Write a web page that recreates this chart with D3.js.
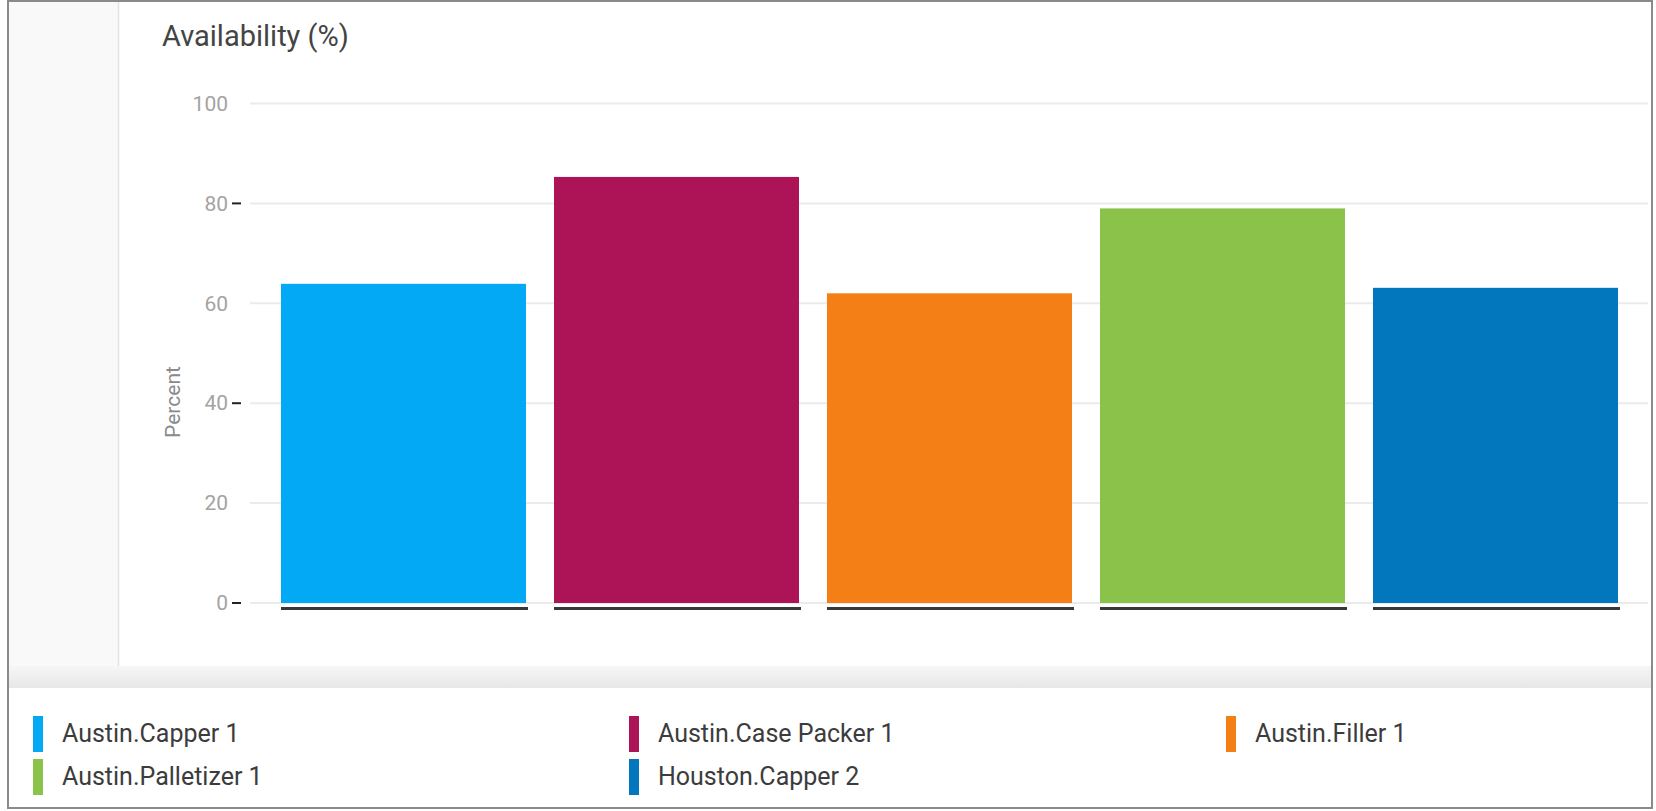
<!DOCTYPE html>
<html>
<head>
<meta charset="utf-8">
<script src="https://cdn.jsdelivr.net/npm/d3@7"></script>
<style>
  html, body { margin: 0; padding: 0; background: #ffffff; }
  svg { display: block; font-family: Roboto, "Noto Sans", sans-serif; }
</style>
</head>
<body>
<svg id="chart" width="1656" height="811"></svg>
<script>
// ---- data ----
const categories = ["Austin.Capper 1", "Austin.Case Packer 1", "Austin.Filler 1", "Austin.Palletizer 1", "Houston.Capper 2"];
const values = [63.9, 85.3, 62.0, 79.0, 63.1];
const colors = ["#03a9f4", "#ad1457", "#f57f17", "#8bc34a", "#0277bd"];
const tickValues = [0, 20, 40, 60, 80, 100];
const markedTicks = [0, 40, 80];
const title = "Availability (%)";
const yLabel = "Percent";

const svg = d3.select("#chart");
const W = 1656, H = 811;

// frame
const frame = { x0: 8, y0: 1, x1: 1652, y1: 808 };
svg.append("rect").attr("x", 0).attr("y", 0).attr("width", W).attr("height", H).attr("fill", "#ffffff");
svg.append("rect").attr("x", frame.x0).attr("y", frame.y0)
  .attr("width", frame.x1 - frame.x0).attr("height", frame.y1 - frame.y0)
  .attr("fill", "#ffffff");
// left side panel
svg.append("rect").attr("x", frame.x0).attr("y", frame.y0).attr("width", 110).attr("height", 666 - frame.y0)
  .attr("fill", "#f9f9f9");
svg.append("line").attr("x1", 118.5).attr("x2", 118.5).attr("y1", frame.y0).attr("y2", 666)
  .attr("stroke", "#e3e3e3").attr("stroke-width", 1.5);
// band between chart and legend
const grad = svg.append("defs").append("linearGradient").attr("id", "band").attr("x1", 0).attr("x2", 0).attr("y1", 0).attr("y2", 1);
grad.append("stop").attr("offset", "0%").attr("stop-color", "#f6f6f6");
grad.append("stop").attr("offset", "100%").attr("stop-color", "#e7e7e7");
svg.append("rect").attr("x", frame.x0).attr("y", 666).attr("width", frame.x1 - frame.x0).attr("height", 22)
  .attr("fill", "url(#band)");
// top teal mark
svg.append("rect").attr("x", 265).attr("y", 0).attr("width", 25).attr("height", 2).attr("fill", "#2f7f8c");

// title
svg.append("text").attr("x", 162).attr("y", 46).attr("font-size", 29).attr("fill", "#444")
  .text(title);

// scales
const y = d3.scaleLinear().domain([0, 100]).range([603, 103.5]);
const x = d3.scaleBand().domain(categories).range([267, 1632]).paddingInner(0.1026).paddingOuter(0.0513);

// gridlines
svg.append("g").selectAll("line").data(tickValues).join("line")
  .attr("x1", 250).attr("x2", 1648)
  .attr("y1", d => y(d)).attr("y2", d => y(d))
  .attr("stroke", "#ebebeb").attr("stroke-width", 2);

// y axis labels
const yAxis = d3.axisLeft(y).tickValues(tickValues).tickSize(0).tickPadding(0).tickFormat(d3.format("d"));
const gy = svg.append("g").attr("transform", "translate(228,0)").call(yAxis);
gy.select(".domain").remove();
gy.selectAll("text").attr("font-size", 21).attr("fill", "#a3a3a3").attr("font-family", "Roboto, sans-serif");
// small tick dashes
svg.append("g").selectAll("line").data(markedTicks).join("line")
  .attr("x1", 232).attr("x2", 241)
  .attr("y1", d => y(d)).attr("y2", d => y(d))
  .attr("stroke", "#222").attr("stroke-width", 2);

// y label
svg.append("text").attr("transform", "translate(180,402) rotate(-90)")
  .attr("text-anchor", "middle").attr("font-size", 21).attr("fill", "#8a8a8a").text(yLabel);

// bars
svg.append("g").selectAll("rect").data(categories).join("rect")
  .attr("x", d => x(d)).attr("width", x.bandwidth())
  .attr("y", (d, i) => y(values[i])).attr("height", (d, i) => y(0) - y(values[i]))
  .attr("fill", (d, i) => colors[i]);
// dark underline per bar
svg.append("g").selectAll("rect").data(categories).join("rect")
  .attr("x", d => x(d)).attr("width", x.bandwidth() + 2)
  .attr("y", y(0) + 4).attr("height", 3)
  .attr("fill", "#383838");

// legend
const legend = svg.append("g");
const colX = [33, 629, 1226];
const rowY = [716, 759];
categories.forEach((c, i) => {
  const col = i % 3, row = Math.floor(i / 3);
  const g = legend.append("g").attr("transform", `translate(${colX[col]},${rowY[row]})`);
  g.append("rect").attr("width", 10).attr("height", 36).attr("fill", colors[i]);
  g.append("text").attr("x", 29).attr("y", 26).attr("font-size", 25).attr("fill", "#3c3c3c").text(c);
});

// outer border
svg.append("rect").attr("x", frame.x0).attr("y", frame.y0)
  .attr("width", frame.x1 - frame.x0).attr("height", frame.y1 - frame.y0)
  .attr("fill", "none").attr("stroke", "#8a8a8a").attr("stroke-width", 2);
</script>
</body>
</html>
